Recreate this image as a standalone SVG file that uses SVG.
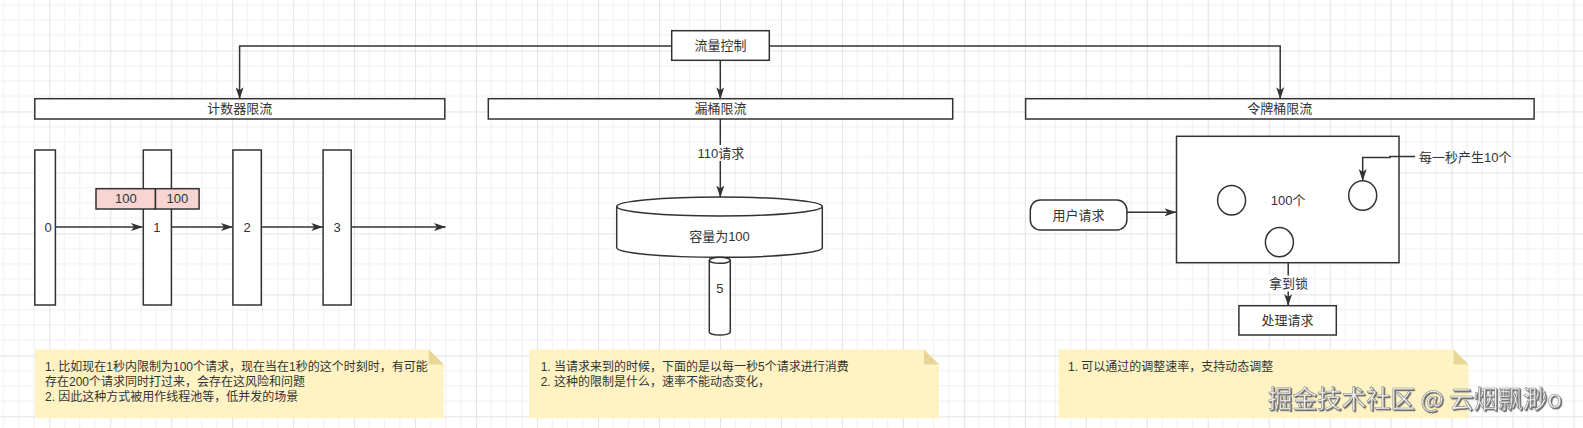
<svg xmlns="http://www.w3.org/2000/svg" width="1583" height="428" viewBox="0 0 1583 428">
<style>
.s{fill:#fff;stroke:#333;stroke-width:1.5}
.ln{fill:none;stroke:#333;stroke-width:1.5}
.t{font-family:"Liberation Sans","Noto Sans CJK SC",sans-serif;font-size:13px;fill:#333;text-anchor:middle;dominant-baseline:central}
.n{font-family:"Liberation Sans","Noto Sans CJK SC",sans-serif;font-size:12px;fill:#333;dominant-baseline:central}
.note{fill:#fff3c4}
.fold{fill:#e6d796}
.pink{fill:#f8d5d3;stroke:#333;stroke-width:1.5}
.wm{font-family:"Noto Sans CJK SC",sans-serif;font-size:24.5px;fill:#f6f6f6;stroke:#8a8a8a;stroke-width:0.6}
</style>
<defs>
<pattern id="grid" patternUnits="userSpaceOnUse" x="49.3" y="50.5" width="60.97" height="60.97">
<path d="M15.24,0V60.97M30.48,0V60.97M45.73,0V60.97M0,15.24H60.97M0,30.48H60.97M0,45.73H60.97" stroke="#f0f0f0" stroke-width="1" fill="none"/>
<path d="M0.5,0V60.97M0,0.5H60.97" stroke="#e3e3e3" stroke-width="1" fill="none"/>
</pattern>
<marker id="arr" markerUnits="userSpaceOnUse" viewBox="0 0 12 8" refX="11.5" refY="4" markerWidth="12" markerHeight="8" orient="auto">
<path d="M0,0 L12,4 L0,8 L3,4 Z" fill="#333"/>
</marker>
<filter id="sh" x="-5%" y="-20%" width="110%" height="140%">
<feDropShadow dx="1.2" dy="1.2" stdDeviation="0.6" flood-color="#555" flood-opacity="0.9"/>
</filter>
</defs>
<rect width="1583" height="428" fill="#fff"/>
<rect width="1583" height="428" fill="url(#grid)"/>

<g id="flow-control"><rect class="s" x="671.7" y="30.7" width="97.6" height="29.6"/><text class="t" x="720.5" y="45.5">流量控制</text></g>

<g id="counter-title"><rect class="s" x="34.8" y="98.7" width="410" height="20.3"/><text class="t" x="239.8" y="108.9">计数器限流</text></g>
<g id="leaky-title"><rect class="s" x="488.3" y="98.7" width="464.4" height="20.3"/><text class="t" x="720.5" y="108.9">漏桶限流</text></g>
<g id="token-title"><rect class="s" x="1025.6" y="98.7" width="508.5" height="20.3"/><text class="t" x="1279.8" y="108.9">令牌桶限流</text></g>

<g id="bar0"><rect class="s" x="34.8" y="150" width="20.6" height="155"/><text class="t" x="48.2" y="227">0</text></g>
<g id="bar1"><rect class="s" x="143.3" y="150" width="28.1" height="155"/><text class="t" x="156.8" y="227">1</text></g>
<g id="bar2"><rect class="s" x="232.9" y="150" width="28.4" height="155"/><text class="t" x="247.1" y="227">2</text></g>
<g id="bar3"><rect class="s" x="323.1" y="150" width="28.1" height="155"/><text class="t" x="337.2" y="227">3</text></g>
<g id="pink1"><rect class="pink" x="96" y="188.7" width="59.5" height="20.3"/><text class="t" x="125.8" y="198.9">100</text></g>
<g id="pink2"><rect class="pink" x="155.5" y="188.7" width="43.6" height="20.3"/><text class="t" x="177.3" y="198.9">100</text></g>

<g id="bucket">
<path class="s" d="M616.7,206.5 A102.8,9.5 0 0 1 822.3,206.5 V247.8 A102.8,9.5 0 0 1 616.7,247.8 Z"/>
<path class="ln" d="M616.7,206.5 A102.8,9.5 0 0 0 822.3,206.5"/>
<text class="t" x="719.5" y="236.7">容量为100</text>
</g>
<g id="outlet">
<path class="s" d="M709.3,260.3 A10.5,3 0 0 1 730.3,260.3 V332 A10.5,3 0 0 1 709.3,332 Z"/>
<path class="ln" d="M709.3,260.3 A10.5,3 0 0 0 730.3,260.3"/>
<text class="t" x="719.8" y="288">5</text>
</g>

<g id="token-bucket">
<rect class="s" x="1176.5" y="136.3" width="222.5" height="126.4"/>
<text class="t" x="1288.2" y="200">100个</text>
</g>
<g id="token1"><ellipse class="s" cx="1231.6" cy="200.2" rx="14" ry="14.8"/></g>
<g id="token2"><ellipse class="s" cx="1362.7" cy="195.5" rx="14" ry="14.8"/></g>
<g id="token3"><ellipse class="s" cx="1279.4" cy="242.2" rx="14" ry="14.6"/></g>
<g id="rate-label"><text class="t" x="1465.2" y="157.3">每一秒产生10个</text></g>
<g id="user-request"><rect class="s" x="1030.3" y="200" width="96.6" height="30" rx="10" ry="10"/><text class="t" x="1078.6" y="215.5">用户请求</text></g>
<g id="process"><rect class="s" x="1238.9" y="305.7" width="97.4" height="29.3"/><text class="t" x="1287.6" y="320.4">处理请求</text></g>

<g id="connectors">
<path class="ln" d="M672,46 H239.6 V98.7" marker-end="url(#arr)"/>
<path class="ln" d="M769.3,46 H1280.2 V98.7" marker-end="url(#arr)"/>
<path class="ln" d="M720.3,60.3 V98.7" marker-end="url(#arr)"/>
<path class="ln" d="M720.3,119 V197" marker-end="url(#arr)"/>
<path class="ln" d="M55.4,227 H142.5" marker-end="url(#arr)"/>
<path class="ln" d="M171.4,227 H232.5" marker-end="url(#arr)"/>
<path class="ln" d="M261.3,227 H322.8" marker-end="url(#arr)"/>
<path class="ln" d="M351.2,227 H445.5" marker-end="url(#arr)"/>
<path class="ln" d="M1126.9,212.3 H1176" marker-end="url(#arr)"/>
<path class="ln" d="M1415,156.5 H1390 V157.5 H1362.7 V180.5" marker-end="url(#arr)"/>
<path class="ln" d="M1288.2,262.7 V305.5" marker-end="url(#arr)"/>
</g>

<g id="label-110"><rect x="696" y="145" width="50" height="16" fill="#fff"/><text class="t" x="720.8" y="153.3">110请求</text></g>
<g id="label-lock"><rect x="1268" y="275.5" width="41" height="16" fill="#fff"/><text class="t" x="1288.6" y="283.3">拿到锁</text></g>

<g id="note1">
<path class="note" d="M34.8,349.5 H428.8 L443.8,364.5 V418.3 H34.8 Z"/>
<path class="fold" d="M428.8,349.5 V364.5 H443.8 Z"/>
<text class="n" x="45" y="366.7">1. 比如现在1秒内限制为100个请求，现在当在1秒的这个时刻时，有可能</text>
<text class="n" x="45" y="381.7">存在200个请求同时打过来，会存在这风险和问题</text>
<text class="n" x="45" y="396.7">2. 因此这种方式被用作线程池等，低并发的场景</text>
</g>
<g id="note2">
<path class="note" d="M529,349.5 H924 L939,364.5 V418.3 H529 Z"/>
<path class="fold" d="M924,349.5 V364.5 H939 Z"/>
<text class="n" x="540.7" y="366.7">1. 当请求来到的时候，下面的是以每一秒5个请求进行消费</text>
<text class="n" x="540.7" y="382.3">2. 这种的限制是什么，速率不能动态变化，</text>
</g>
<g id="note3">
<path class="note" d="M1058.5,349.5 H1453.6 L1468.6,364.5 V418.3 H1058.5 Z"/>
<path class="fold" d="M1453.6,349.5 V364.5 H1468.6 Z"/>
<text class="n" x="1068" y="366.7">1. 可以通过的调整速率，支持动态调整</text>
</g>

<text class="wm" x="1268" y="408" filter="url(#sh)">掘金技术社区 @ 云烟飘渺o</text>
</svg>
